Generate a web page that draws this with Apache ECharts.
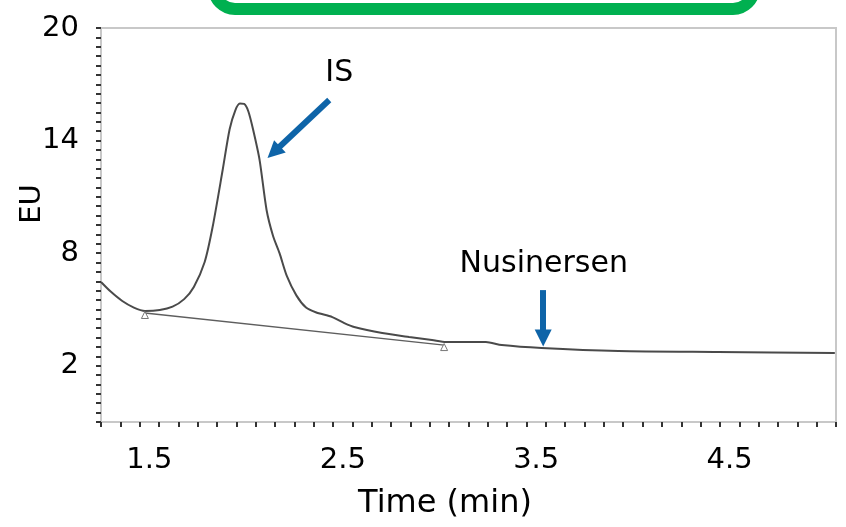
<!DOCTYPE html>
<html>
<head>
<meta charset="utf-8">
<script src="https://cdn.jsdelivr.net/npm/echarts@6/dist/echarts.min.js"></script>
<style>
html,body{margin:0;padding:0;background:#fff;}
#chart{width:846px;height:527px;}
</style>
</head>
<body>
<div id="chart"></div>
<script>
// Chromatogram trace (Time in min, signal in EU)
const timeMin = [1.25, 1.30, 1.36, 1.42, 1.477, 1.554, 1.62, 1.68, 1.73, 1.786, 1.827, 1.879, 1.915, 1.944, 1.968, 1.990, 2.012, 2.036, 2.070, 2.106, 2.14, 2.173, 2.21, 2.26, 2.31, 2.36, 2.446, 2.508, 2.559, 2.704, 2.843, 2.961, 3.034, 3.24, 3.322, 3.528, 3.925, 4.44, 5.044];
const signalEU = [6.46, 5.95, 5.45, 5.10, 4.92, 4.97, 5.15, 5.55, 6.2, 7.53, 9.39, 12.43, 14.6, 15.6, 15.97, 15.95, 15.55, 14.6, 12.96, 10.3, 8.9, 8.0, 6.8, 5.75, 5.1, 4.85, 4.59, 4.27, 4.06, 3.74, 3.53, 3.37, 3.26, 3.26, 3.10, 2.94, 2.78, 2.73, 2.68];
// Integration baseline
const baselineTime = [1.477, 3.024];
const baselineEU = [4.81, 3.10];
// Tick labels
const xTickLabels = [1.5, 2.5, 3.5, 4.5];
const yTickLabels = [2, 8, 14, 20];
// Annotations
const annotationNames = ['IS', 'Nusinersen'];
const annotationTime = [2.482, 3.539];
const annotationEU = [17.65, 7.47];
const arrowFromTime = [2.430, 3.536];
const arrowFromEU = [16.16, 6.03];
const arrowToTime = [2.143, 3.536];
const arrowToEU = [13.38, 3.48];

const FONT = 'DejaVu Sans';
const chart = echarts.init(document.getElementById('chart'), null, {renderer: 'canvas'});

const trace = timeMin.map((t, i) => [t, signalEU[i]]);
const baseline = baselineTime.map((t, i) => [t, baselineEU[i]]);
const labels = annotationNames.map((n, i) => ({name: n, value: [annotationTime[i], annotationEU[i]]}));
const arrows = arrowFromTime.map((t, i) => [
  {coord: [t, arrowFromEU[i]]},
  {coord: [arrowToTime[i], arrowToEU[i]]}
]);

const option = {
  animation: false,
  backgroundColor: '#fff',
  grid: {left: 101, right: 10, top: 28, bottom: 105, outerBoundsMode: 'none', containLabel: false,
         show: true, borderColor: '#c8c8c8', borderWidth: 2, backgroundColor: 'transparent'},
  graphic: [{
    type: 'rect',
    shape: {x: 214, y: -33, width: 540, height: 42, r: 22},
    style: {fill: '#fff', stroke: '#00b050', lineWidth: 12},
    z: 100
  }],
  xAxis: [{
    type: 'value', min: 1.25, max: 5.05, interval: 0.1,
    axisLine: {show: true, onZero: false, lineStyle: {color: '#c8c8c8', width: 2}},
    axisTick: {show: true, length: 5, lineStyle: {color: '#333', width: 2}},
    axisLabel: {show: false},
    splitLine: {show: false},
    name: 'Time (min)', nameLocation: 'middle', nameGap: 66, nameMoveOverlap: false,
    nameTextStyle: {fontFamily: FONT, fontSize: 32, color: '#000', padding: [0, 47, 0, 0]}
  }, {
    type: 'value', min: 1.25, max: 5.05, interval: 0.25, position: 'bottom',
    axisLine: {show: false, onZero: false}, axisTick: {show: false}, splitLine: {show: false},
    axisLabel: {
      margin: 24, fontFamily: FONT, fontSize: 29, color: '#000',
      formatter: v => xTickLabels.some(l => Math.abs(l - v) < 1e-6) ? v.toFixed(1) : ''
    }
  }],
  yAxis: [{
    type: 'value', min: -1, max: 20, interval: 0.5,
    axisLine: {show: true, onZero: false, lineStyle: {color: '#c8c8c8', width: 2}},
    axisTick: {show: true, length: 5, lineStyle: {color: '#333', width: 2}},
    splitLine: {show: false},
    axisLabel: {
      margin: 22, fontFamily: FONT, fontSize: 29, color: '#000',
      formatter: v => yTickLabels.some(l => Math.abs(l - v) < 1e-6) ? String(Math.round(v)) : ''
    },
    name: 'EU', nameLocation: 'middle', nameGap: 54, nameMoveOverlap: false,
    nameTextStyle: {fontFamily: FONT, fontSize: 29, color: '#000', padding: [0, 0, 0, 42]}
  }],
  series: [{
    type: 'line', data: trace, smooth: 0.25, showSymbol: false, xAxisIndex: 0,
    lineStyle: {color: '#4a4a4a', width: 2}, z: 3
  }, {
    type: 'line', data: baseline, showSymbol: false, xAxisIndex: 0,
    lineStyle: {color: '#5e5e5e', width: 1.4}, z: 2
  }, {
    type: 'scatter', data: baseline, symbol: 'triangle', symbolSize: 7, symbolOffset: [0, 2], xAxisIndex: 0,
    itemStyle: {color: '#fff', borderColor: '#777', borderWidth: 1, opacity: 1}, z: 4
  }, {
    type: 'scatter', data: labels, symbolSize: 1, xAxisIndex: 0,
    itemStyle: {color: 'rgba(0,0,0,0)', opacity: 1},
    label: {show: true, position: 'top', distance: 0, offset: [0, 17], formatter: '{b}',
            fontFamily: FONT, fontSize: 30, color: '#000000', textBorderWidth: 0, opacity: 1},
    emphasis: {disabled: true},
    markLine: {
      silent: true, symbol: ['none', 'triangle'], symbolSize: 17,
      label: {show: false},
      lineStyle: {color: '#0e64a8', width: 6, type: 'solid', opacity: 1},
      emphasis: {disabled: true},
      data: arrows
    }
  }]
};
chart.setOption(option);
</script>
</body>
</html>
